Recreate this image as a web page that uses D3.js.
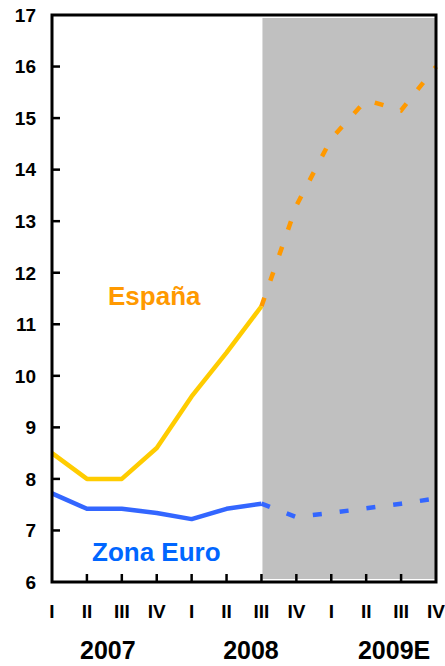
<!DOCTYPE html>
<html><head><meta charset="utf-8">
<script src="https://cdn.jsdelivr.net/npm/d3@7/dist/d3.min.js"></script>
<style>body{margin:0;background:#fff}svg{display:block;font-family:"Liberation Sans",Arial,sans-serif;font-weight:bold}</style>
</head><body><svg id="c" width="445" height="666"></svg>
<script>
const quarters = ["I","II","III","IV","I","II","III","IV","I","II","III","IV"];
const years = ["2007","2008","2009E"];
const yearCenters = [1.6, 5.7, 9.8];
const espana = [8.5, 8.0, 8.0, 8.6, 9.6, 10.45, 11.35, 13.3, 14.6, 15.35, 15.15, 16.0];
const zonaEuro = [7.72, 7.42, 7.42, 7.34, 7.22, 7.42, 7.52, 7.26, 7.34, 7.43, 7.52, 7.62];
const forecastStart = 6;
const yTicks = [6,7,8,9,10,11,12,13,14,15,16,17];

const svg = d3.select("#c");
const L = 52, R = 436, T = 15, B = 582;
const x = d3.scaleLinear().domain([0, quarters.length - 1]).range([L, R]);
const y = d3.scaleLinear().domain([6, 17]).range([B, T]);

// forecast shading
svg.append("rect").attr("x", x(forecastStart) + 1).attr("y", T + 3)
  .attr("width", R - x(forecastStart) - 2).attr("height", B - T - 6).attr("fill", "#C0C0C0");

const line = d3.line().x(d => x(d[0])).y(d => y(d[1]));
function draw(vals, solidColor, dashColor) {
  const pts = vals.map((v, i) => [i, v]);
  svg.append("path").attr("d", line(pts.slice(0, forecastStart + 1)))
    .attr("fill", "none").attr("stroke", solidColor).attr("stroke-width", 4.5).attr("stroke-linejoin", "round");
  svg.append("path").attr("d", line(pts.slice(forecastStart)))
    .attr("fill", "none").attr("stroke", dashColor).attr("stroke-width", 4.5).attr("stroke-dasharray", "9,18");
}
draw(espana, "#FFCC00", "#FF9900");
draw(zonaEuro, "#3366FF", "#3366FF");

// frame
svg.append("rect").attr("x", L).attr("y", T).attr("width", R - L).attr("height", B - T)
  .attr("fill", "none").attr("stroke", "#000").attr("stroke-width", 3);

// y ticks & labels
const yAxis = svg.append("g");
yTicks.forEach(t => {
  if (t !== 6 && t !== 17) yAxis.append("line").attr("x1", L).attr("x2", L + 8).attr("y1", y(t)).attr("y2", y(t)).attr("stroke", "#000").attr("stroke-width", 2.5);
  yAxis.append("text").attr("x", 36).attr("y", y(t)).attr("dy", "0.36em").attr("text-anchor", "end")
    .attr("font-size", 19).text(t);
});

// x ticks & labels
quarters.forEach((q, i) => {
  if (i > 0 && i < quarters.length - 1) svg.append("line").attr("x1", x(i)).attr("x2", x(i)).attr("y1", B).attr("y2", B - 8).attr("stroke", "#000").attr("stroke-width", 2.5);
  svg.append("text").attr("x", x(i)).attr("y", 611).attr("dy", "0.36em").attr("text-anchor", "middle")
    .attr("font-size", 19).text(q);
});
years.forEach((yr, i) => {
  svg.append("text").attr("x", x(yearCenters[i])).attr("y", 659).attr("text-anchor", "middle")
    .attr("font-size", 25).text(yr);
});

svg.append("text").attr("x", 108).attr("y", 305).attr("font-size", 26).attr("fill", "#FF9900").text("España");
svg.append("text").attr("x", 92).attr("y", 561).attr("font-size", 26).attr("fill", "#0066FF").text("Zona Euro");
</script></body></html>
